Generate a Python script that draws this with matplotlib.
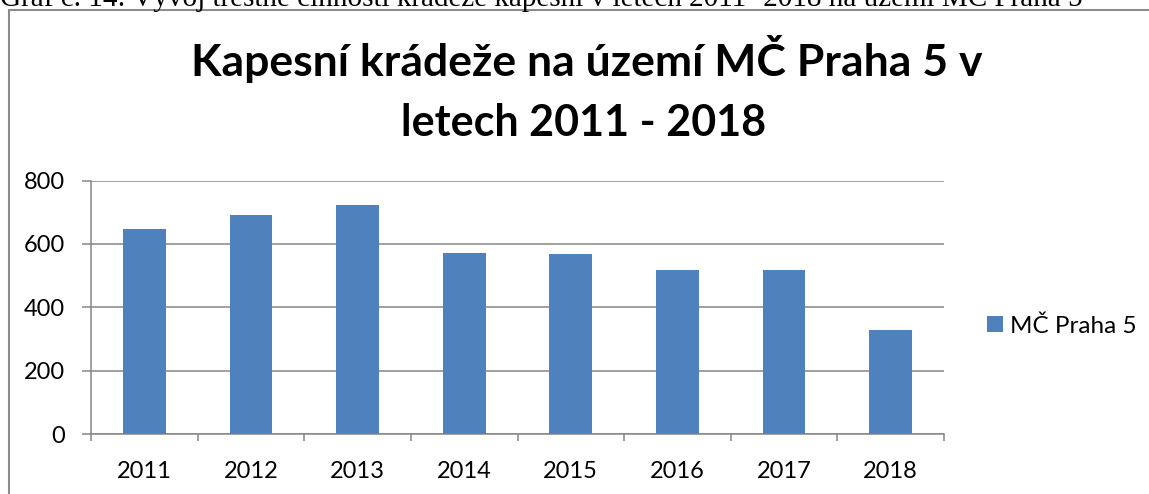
import matplotlib
matplotlib.use("Agg")
import matplotlib.pyplot as plt
from matplotlib.patches import Rectangle
from matplotlib.ticker import FixedLocator

years = ["2011", "2012", "2013", "2014", "2015", "2016", "2017", "2018"]
values = [648, 691, 724, 570, 568, 518, 517, 329]
series_name = "MČ Praha 5"
title_line1 = "Kapesní krádeže na území MČ Praha 5 v"
title_line2 = "letech 2011 - 2018"
caption = "Graf č. 14: Vývoj trestné činnosti krádeže kapesní v letech 2011- 2018 na území MČ Praha 5"
yticks = [0, 200, 400, 600, 800]

W, H = 1149, 494
fig = plt.figure(figsize=(W / 100, H / 100), dpi=100)
fig.patch.set_facecolor("white")

GRAY = "#868686"
BAR = "#4F81BD"
FONT = ["Lato", "DejaVu Sans"]

# outer chart frame (extends past right/bottom edges)
fig.patches.append(Rectangle((8.5 / W, -0.1), 1.2, (H - 10.5) / H + 0.1,
                             transform=fig.transFigure, fill=False,
                             edgecolor="#8c8c8c", linewidth=1.5))

# caption above the frame (cut by the top edge, as in the reference)
fig.text(0.0, 1 - 6 / H, caption, family=["Liberation Serif"], fontsize=21,
         ha="left", va="baseline", color="black")

ax = fig.add_axes([91 / W, (H - 434.3) / H, (944 - 91) / W, (434.3 - 180.5) / H])
x = list(range(len(years)))
ax.bar(x, values, width=0.4, color=BAR, label=series_name, zorder=3)
ax.set_xlim(-0.5, len(years) - 0.5)
ax.set_ylim(0, 800)
ax.set_yticks(yticks)
ax.set_yticklabels([str(v) for v in yticks], family=FONT, fontsize=17)
ax.set_xticks(x)
ax.set_xticklabels(years, family=FONT, fontsize=17)
ax.xaxis.set_minor_locator(FixedLocator([i - 0.5 for i in range(len(years) + 1)]))
ax.tick_params(axis="x", which="major", length=0, pad=19)
ax.tick_params(axis="x", which="minor", length=5, width=1.1, color=GRAY, direction="out")
ax.tick_params(axis="y", length=6.5, width=1.1, color=GRAY, pad=12, direction="out")
ax.grid(axis="y", color=GRAY, linewidth=1.1, zorder=0)
ax.set_axisbelow(True)
for s in ["top", "right"]:
    ax.spines[s].set_visible(False)
for s in ["left", "bottom"]:
    ax.spines[s].set_color(GRAY)
    ax.spines[s].set_linewidth(1.1)

leg = ax.legend(loc="center left", bbox_to_anchor=(987 / W, (H - 326) / H),
                bbox_transform=fig.transFigure, frameon=False,
                prop={"family": FONT, "size": 17.5},
                handlelength=0.65, handleheight=0.65, handletextpad=0.3,
                borderpad=0, borderaxespad=0)

fig.text(587 / W, (H - 76) / H, title_line1, family=FONT, fontweight="bold",
         fontsize=32, ha="center", va="baseline")
fig.text(584 / W, (H - 136) / H, title_line2, family=FONT, fontweight="bold",
         fontsize=31, ha="center", va="baseline")

fig.savefig("out.png", dpi=100)
